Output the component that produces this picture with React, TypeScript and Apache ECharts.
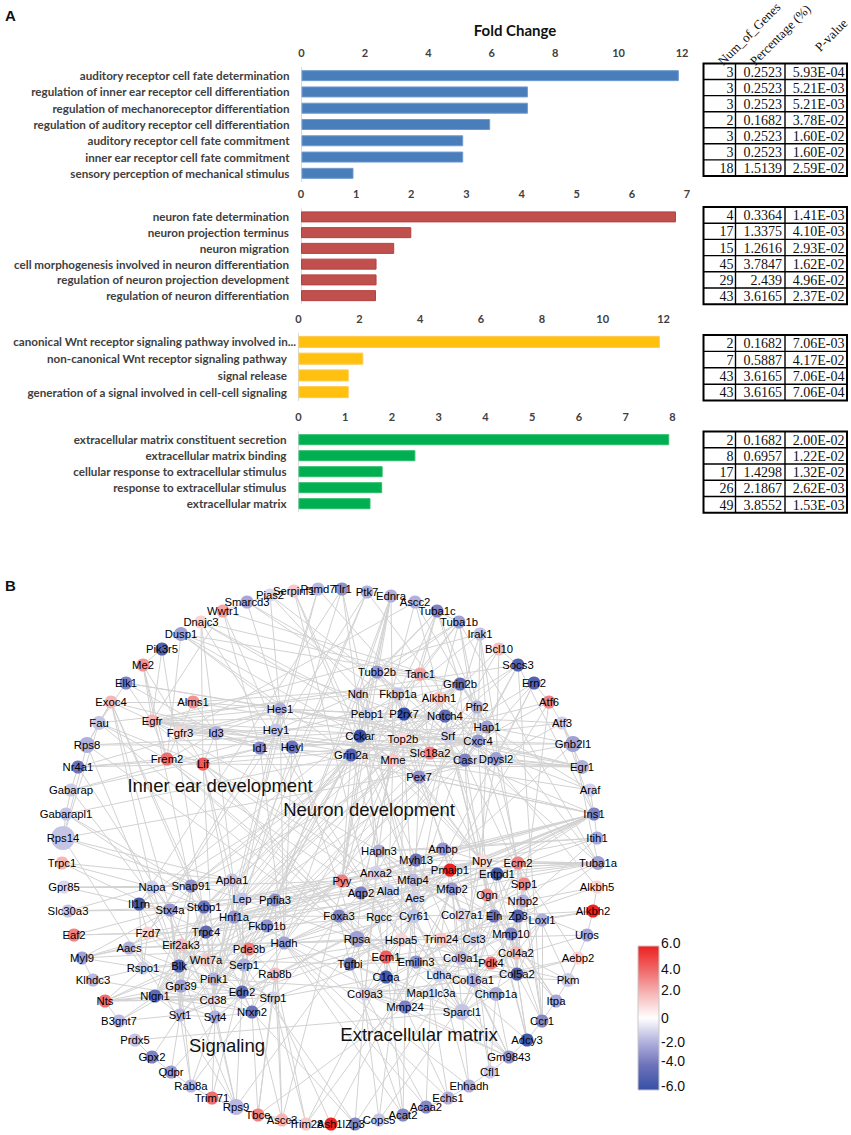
import React, { useEffect, useRef } from "react";
import * as echarts from "echarts";

// ---------- Panel A data ----------
const cat1 = ["auditory receptor cell fate determination","regulation of inner ear receptor cell differentiation","regulation of mechanoreceptor differentiation","regulation of auditory receptor cell differentiation","auditory receptor cell fate commitment","inner ear receptor cell fate commitment","sensory perception of mechanical stimulus"];
const val1 = [11.9, 7.14, 7.14, 5.95, 5.1, 5.1, 1.64];
const genes1 = ["3","3","3","2","3","3","18"];
const pct1 = ["0.2523","0.2523","0.2523","0.1682","0.2523","0.2523","1.5139"];
const pv1 = ["5.93E-04","5.21E-03","5.21E-03","3.78E-02","1.60E-02","1.60E-02","2.59E-02"];

const cat2 = ["neuron fate determination","neuron projection terminus","neuron migration","cell morphogenesis involved in neuron differentiation","regulation of neuron projection development","regulation of neuron differentiation"];
const val2 = [6.8, 2.0, 1.69, 1.37, 1.37, 1.36];
const genes2 = ["4","17","15","45","29","43"];
const pct2 = ["0.3364","1.3375","1.2616","3.7847","2.439","3.6165"];
const pv2 = ["1.41E-03","4.10E-03","2.93E-02","1.62E-02","4.96E-02","2.37E-02"];

const cat3 = ["canonical Wnt receptor signaling pathway involved in...","non-canonical Wnt receptor signaling pathway","signal release","generation of a signal involved in cell-cell signaling"];
const val3 = [11.88, 2.13, 1.65, 1.65];
const genes3 = ["2","7","43","43"];
const pct3 = ["0.1682","0.5887","3.6165","3.6165"];
const pv3 = ["7.06E-03","4.17E-02","7.06E-04","7.06E-04"];

const cat4 = ["extracellular matrix constituent secretion","extracellular matrix binding","cellular response to extracellular stimulus","response to extracellular stimulus","extracellular matrix"];
const val4 = [7.93, 2.5, 1.8, 1.79, 1.54];
const genes4 = ["2","8","17","26","49"];
const pct4 = ["0.1682","0.6957","1.4298","2.1867","3.8552"];
const pv4 = ["2.00E-02","1.22E-02","1.32E-02","2.62E-03","1.53E-03"];

const tableHeaders = ["Num_of_Genes", "Percentage (%)", "P-value"];

// ---------- Panel B data: label, x, y, fold value, symbol size ----------
type Row = [string, number, number, number, number];
const outerNodes: Row[] = [
["Pias2",270,595,-1,13],["Serpinf1",294,591,1.5,13],["Psmd7",318,589,-1.8,13],["Tlr1",342,589,-3,13],["Ptk7",367,592,-2,13],["Ednra",391,596,-2,13],["Ascc2",415,602,-2,13],["Tuba1c",437,611,-3.5,13],["Tuba1b",459,622,-2.5,13],["Irak1",480,634,-1.5,13],["Bcl10",499,649,1.8,13],["Socs3",518,665,-5,13],["Ern2",534,683,-5,13],["Atf6",549,702,3.5,13],["Atf3",562,723,-1.2,13],["Gnb2l1",573,744,-2.5,16],["Egr1",582,767,-2,14],["Araf",590,790,-1.2,13],["Ins1",594,814,-3.5,13],["Itih1",597,838,-2.2,13],["Tuba1a",598,863,-2.5,14],["Alkbh5",597,887,1.2,13],["Alkbh2",593,911,6,13],["Uros",587,935,-2.3,13],["Aebp2",578,958,1.2,13],["Pkm",568,980,-1.3,14],["Itpa",556,1001,-2.3,13],["Ccr1",542,1021,-3.3,13],["Adcy3",527,1040,-5.5,13],["Gm9843",509,1057,-3,13],["Cfl1",490,1072,-1.3,13],["Ehhadh",469,1086,-2,13],["Echs1",448,1098,-2,13],["Acaa2",426,1107,-3.3,13],["Acat2",403,1115,-3.3,13],["Cops5",379,1120,-1.5,13],["Zp3",355,1124,-3.3,13],["Ash1l",331,1124,6,13],["Trim28",306,1124,1.5,13],["Ascc3",282,1120,2,13],["Tbce",258,1115,3.5,13],["Rps9",236,1107,-1.8,16],["Trim71",212,1098,4,13],["Rab8a",191,1086,-1.8,13],["Qdpr",171,1072,-2.7,13],["Gpx2",152,1057,-3.5,13],["Prdx5",135,1040,-1.5,13],["B3gnt7",119,1021,-1.8,13],["Nts",105,1001,4,13],["Klhdc3",93,980,-1.8,13],["Myl9",82,958,-2.5,13],["Eaf2",74,935,3.5,13],["Slc30a3",68,911,-1.5,13],["Gpr85",64,887,-1,13],["Trpc1",62,863,2,13],["Rps14",63,838,-1.5,24],["Gabarapl1",66,814,-1.5,13],["Gabarap",71,790,-1.3,13],["Nr4a1",78,767,-4,13],["Rps8",87,745,-2,16],["Fau",99,723,-1.5,14],["Exoc4",111,702,2,13],["Elk1",126,683,-3.5,13],["Me2",143,665,3,13],["Pik3r5",162,649,-5,13],["Dusp1",181,634,-2.5,14],["Dnajc3",201,622,1.2,13],["Wwtr1",223,611,2.5,13],["Smarcd3",247,602,-2.3,13],
];
const earNodes: Row[] = [
["Alms1",193,702,3,13],["Hes1",280,709,-2,13],["Egfr",152,721,2,13],["Hey1",276,730,-1.5,13],["Id3",216,733,-2,14],["Fgfr3",180,733,1.2,14],["Heyl",292,747,-4,13],["Id1",260,748,-3.3,13],["Frem2",167,759,4,13],["Lif",203,764,4.5,13],
];
const neuronNodes: Row[] = [
["Tubb2b",377,672,-2.8,13],["Tanc1",420,674,2.5,13],["Grin2b",460,684,-4.5,13],["Ndn",358,694,-1.3,13],["Fkbp1a",398,694,-1.5,13],["Alkbh1",439,698,1.5,13],["Pfn2",477,707,-2,13],["Pebp1",367,714,-1.2,13],["P2rx7",404,714,-6,13],["Notch4",445,716,-4.5,13],["Hap1",487,727,-2.5,13],["Cckar",360,736,-6,13],["Top2b",403,739,1,13],["Srf",448,736,-1.2,14],["Cxcr4",478,741,-2.8,13],["Grin2a",351,755,-4.8,13],["Slc18a2",430,753,3.5,13],["Mme",393,760,1.5,13],["Casr",465,760,-3.5,13],["Dpysl2",496,759,-2.5,14],["Pex7",419,777,-3,13],
];
const matrixNodes: Row[] = [
["Hapln3",379,851,-2,13],["Ambp",443,849,-2.8,13],["Myh13",416,860,-4,13],["Npy",482,861,1,13],["Ecm2",518,863,3.5,13],["Pmaip1",450,870,6,13],["Anxa2",376,873,-1.2,14],["Entpd1",497,874,-5.5,13],["Pyy",342,881,3.5,13],["Mfap4",413,880,-1.8,13],["Spp1",524,884,3.3,13],["Mfap2",452,889,-2.8,13],["Aqp2",361,893,-3.5,13],["Alad",388,891,-1.3,14],["Ogn",487,895,3,13],["Nrbp2",523,901,-2,13],["Aes",415,898,-1.2,13],["Foxa3",339,916,-3.5,13],["Rgcc",379,917,-1,13],["Cyr61",414,916,-1.5,14],["Col27a1",462,915,-1,14],["Eln",494,916,-4,13],["Zp3",518,916,-5,13],["Loxl1",542,920,-2,13],["Cst3",474,939,-1.2,14],["Mmp10",511,934,-3.5,13],["Rpsa",357,939,-2.5,16],["Hspa5",401,940,1.2,14],["Trim24",441,939,1.5,13],["Tgfbi",350,964,-4,13],["Ecm1",386,957,4.5,13],["Emilin3",416,962,-3,13],["Col9a1",461,958,-1.8,14],["Pdk4",491,963,3.8,13],["Col4a2",516,953,2,13],["C1qa",386,977,-5.5,13],["Ldha",439,975,-1.2,14],["Col16a1",473,980,-2,14],["Col5a2",517,974,-5,13],["Col9a3",365,994,-1.2,13],["Map1lc3a",431,993,-1,13],["Chmp1a",496,994,-2,14],["Mmp24",405,1007,-3.5,13],["Sparcl1",462,1012,-1.5,16],
];
const signalingNodes: Row[] = [
["Apba1",232,880,-1.5,13],["Napa",152,887,-1.2,13],["Snap91",191,886,-3,13],["Lep",242,899,-1.5,13],["Ppfia3",275,900,-3,13],["Il1rn",139,904,-5.5,13],["Stxbp1",204,907,-4,13],["Stx4a",170,910,-2.8,13],["Hnf1a",234,917,-2.8,13],["Fkbp1b",267,926,-3,13],["Trpc4",206,932,-4.5,13],["Fzd7",148,933,1.2,13],["Hadh",284,943,-2.5,13],["Eif2ak3",181,945,1.8,13],["Pde3b",249,949,3.5,13],["Aacs",129,948,-2,13],["Rspo1",143,968,-1.2,13],["Blk",179,966,-5,13],["Wnt7a",206,960,1.5,13],["Serp1",244,965,-2,13],["Rab8b",275,974,1.8,13],["Pink1",214,979,-2,13],["Gpr39",181,986,-2.5,13],["Edn2",242,992,-4.5,13],["Nlgn1",155,996,-4.5,13],["Sfrp1",273,998,-1.2,13],["Cd38",213,1000,-1,13],["Nrxn2",252,1012,-4,13],["Syt1",180,1015,-1.8,13],["Syt4",215,1017,-2,13],
];

// "hub: partners"; Zp3* is the Zp3 on the outer ring
const adjacency: string[] = [
"Pias2: Hes1 Top2b Fkbp1a","Serpinf1: Col9a1 Mfap4 Ecm1","Psmd7: Hey1 Srf Pink1","Tlr1: Il1rn Cd38 Hapln3 Cyr61","Ptk7: Wnt7a Hnf1a Fzd7 Cxcr4","Ednra: Edn2 Grin2a Ndn Cckar Pebp1 Mme Pyy","Ascc2: Hap1 Fgfr3 Notch4","Tuba1c: Tubb2b Tuba1b Tanc1 Grin2b Ndn Fkbp1a P2rx7 Pfn2","Tuba1b: Tubb2b Tanc1 Alkbh1 Pfn2 Ndn Grin2a Cxcr4 Tuba1a","Irak1: Il1rn Cxcr4 Srf Hap1 Egfr Ccr1","Bcl10: Srf Lep Socs3 Dpysl2","Socs3: Lep Il1rn Cxcr4 Egfr Casr Ins1 Ccr1","Ern2: Atf6 Hspa5 Srf Dpysl2 Casr","Atf6: Hspa5 Cxcr4 Atf3 Top2b Col4a2","Atf3: Egr1 Srf Hes1 Gnb2l1 Dpysl2 Ins1","Gnb2l1: Rps14 Rpsa Rps8 Hap1 Top2b Tuba1a","Egr1: Srf Lif Id1 Id3 Cxcr4 Mme Egfr Hes1","Araf: Ins1 Egfr Srf Hap1","Ins1: Npy Pyy Myh13 Lep Edn2 Casr Cyr61 Aes Pmaip1 Ecm2 Rab8b Hadh Hnf1a Foxa3 Grin2a Pex7 Egfr","Itih1: Ambp Ins1 Mfap2 Hapln3 Col9a1 Npy","Tuba1a: Tuba1b Aes Mfap4 Col27a1 Tubb2b Anxa2 Pmaip1 Ecm2 Npy Myh13 Alad","Alkbh5: Alkbh2 Nrbp2 Trim24 Alkbh1","Alkbh2: Uros Eln Hspa5 Loxl1","Uros: Ogn Hadh Pdk4 Pkm","Aebp2: Pkm Col5a2 Col16a1 Ecm2","Pkm: Itpa Ldha Pdk4 Col4a2 Spp1","Itpa: Ccr1 Col4a2 Mmp10 Ogn","Ccr1: Adcy3 Spp1 Col5a2 Mmp10","Adcy3: Gm9843 Npy Pyy Col5a2 Eln Mmp10","Gm9843: Sparcl1 Col16a1 Mmp24 Col9a3 Map1lc3a Chmp1a Cfl1 Ldha Col9a1","Cfl1: Ehhadh Col16a1 Cst3 Chmp1a","Ehhadh: Echs1 Sparcl1 Ldha Hadh","Echs1: Acaa2 Map1lc3a Hadh Mmp24","Acaa2: Acat2 Map1lc3a Hadh Col9a3","Acat2: Mmp24 Hadh Tgfbi Ecm1","Cops5: Zp3* Hspa5 Rpsa Pdk4","Zp3*: Eln Serp1 Nrxn2 Col9a3","Ash1l: Sfrp1 Emilin3 Tbce","Trim28: Ascc3 Hspa5 Trim24 Sfrp1 Rab8b","Ascc3: Tbce Ascc2 Rab8b Serp1 Ppfia3","Tbce: Trim71 Tuba1a Rab8b Sfrp1 Nrxn2","Rps9: Rpsa Syt4 Cd38 Rps14 Trim71 Rps8 Edn2","Trim71: Rab8a Syt4 Pde3b","Rab8a: Qdpr Syt1 Syt4 Rab8b Gpr39","Qdpr: Gpx2 Syt1 Hadh","Gpx2: Prdx5 Syt1","Prdx5: Sparcl1 Gpx2","B3gnt7: Nts Nlgn1 Gpr39 Syt1","Nts: Rspo1 Nlgn1 Gpr39 Blk Cd38 Wnt7a Edn2 Sfrp1","Klhdc3: Myl9 Cd38 Rspo1","Myl9: Stx4a Rspo1 Myh13 Aacs Pde3b Mfap4","Eaf2: Fzd7 Stx4a Trpc4","Slc30a3: Stx4a Stxbp1 Napa","Gpr85: Il1rn Napa Snap91","Trpc1: Trpc4 Napa Apba1","Rps14: Rps8 Rpsa Fau Apba1 Gabarapl1","Gabarapl1: Gabarap Snap91 Grin2a Stxbp1","Gabarap: Nr4a1 Pink1 Grin2b Id1","Nr4a1: Hes1 Lif Frem2 Cxcr4 Stx4a","Rps8: Rpsa Fau Exoc4 Hap1","Fau: Exoc4 Rpsa Ndn Frem2 Lif","Exoc4: Egfr Alms1 Stx4a Stxbp1 Snap91 Napa Heyl","Elk1: Hes1 Egfr Fau Srf Id3","Me2: Frem2 Egfr Lif Wnt7a","Pik3r5: Me2 Egfr Pink1","Dusp1: Frem2 Hes1 Grin2a Cckar Tanc1 P2rx7","Dnajc3: Lif Hspa5 Top2b Serp1 Tanc1 Casr","Wwtr1: Smarcd3 Hey1 Grin2b Egfr Id1","Smarcd3: Notch4 Srf Serpinf1 Hes1",
"Hes1: Hey1 Heyl Id1 Id3 Notch4 Egfr Srf Fgfr3 Alms1 Lep Pink1 Hadh","Hey1: Heyl Notch4 Id1 Fgfr3","Heyl: Notch4 Fgfr3 Srf Hadh Rpsa","Id1: Id3 Lif Egfr Fzd7 Hadh Sparcl1","Id3: Lif Frem2 Fgfr3 Egfr Alms1","Egfr: Fgfr3 Lif Frem2 Casr Cxcr4 Notch4 Hapln3","Alms1: Frem2 Grin2b Top2b","Frem2: Col9a1 Ecm1 Sparcl1 Lif","Lif: Ecm1 Hnf1a Pink1 Cxcr4 Anxa2 Apba1 Cyr61 Foxa3",
"Tubb2b: Ndn Fkbp1a Grin2b P2rx7 Tanc1","Tanc1: Grin2a Grin2b Slc18a2 Notch4","Grin2b: Grin2a Pfn2 Alkbh1 Nlgn1 P2rx7 Hap1 Mme Top2b Casr Snap91 Stxbp1","Ndn: Pebp1 Cckar Grin2a Hey1 Fkbp1a Mfap4 Ppfia3","Fkbp1a: Pebp1 Top2b Slc18a2 Pex7 Anxa2 P2rx7","Alkbh1: Notch4 Pex7 Hap1","Pfn2: Srf Hap1 Casr Cxcr4 Tuba1a Aes Anxa2","Pebp1: Cckar Top2b Grin2a Pyy Npy Anxa2","P2rx7: Cckar Slc18a2 Grin2a Casr Mme Pmaip1 Aqp2","Notch4: Hap1 Srf Cxcr4 Slc18a2 Hnf1a Ogn","Hap1: Cxcr4 Dpysl2 Npy Pink1 Casr Slc18a2","Cckar: Grin2a Mme Slc18a2 Npy Pyy Pex7 Pde3b Lep Ppfia3","Top2b: Mme Slc18a2 Srf Cyr61 Hspa5 Pdk4","Srf: Cxcr4 Casr Dpysl2 Cyr61 Ecm1 Col4a2 Eln","Cxcr4: Casr Dpysl2 Trpc4 Ogn Spp1 Mme","Grin2a: Mme Stxbp1 Hapln3 Nlgn1 Snap91 Eif2ak3 Pyy Hadh Cd38 Pink1","Slc18a2: Mme Casr Pex7 Npy Syt1 Snap91","Mme: Npy Pex7 Aqp2 Pyy Ecm1 Ppfia3 Hadh","Casr: Dpysl2 Pex7 Cst3 Ogn Spp1 Pyy","Dpysl2: Pex7 Col9a1 Ecm2","Pex7: Myh13 Npy Hadh Fkbp1b",
"Hapln3: Col27a1 Mfap4 Mfap2 Anxa2 Col9a1 Col9a3 Sparcl1","Ambp: Col27a1 Mmp10 Hapln3 Myh13 Npy","Myh13: Mfap4 Pyy Aes Anxa2 Mmp24 Cyr61","Npy: Pyy Pmaip1 Entpd1 Ogn Fzd7 Col9a1 Blk Stxbp1","Ecm2: Col4a2 Spp1 Entpd1 Col5a2 Col16a1 Cst3","Pmaip1: Mfap4 Trim24 Cyr61 Rpsa Tgfbi Hnf1a","Anxa2: Aqp2 Alad Cyr61 Col9a3 Stx4a","Entpd1: Eln Ogn Zp3 Trpc4 Mmp10","Pyy: Aqp2 Hnf1a Snap91 Lep Wnt7a Blk Pde3b Serp1","Mfap4: Mfap2 Eln Col27a1 Alad Sparcl1 Cyr61","Spp1: Ogn Col4a2 Col5a2 Mmp10 Trim24","Mfap2: Eln Col27a1 Mmp24 Sparcl1 Cst3 Col9a1 Emilin3","Aqp2: Alad Rpsa Mfap2 Ppfia3 Foxa3","Alad: Rgcc Foxa3 Ldha","Ogn: Eln Col4a2 Nrbp2 Cst3 Col16a1","Nrbp2: Zp3 Mmp10 Chmp1a","Aes: Foxa3 Cyr61 Hadh Col9a1 Hnf1a","Foxa3: Hnf1a Rgcc Rpsa Ecm1 Tgfbi Hadh Sfrp1","Rgcc: Cyr61 Tgfbi C1qa Fkbp1b","Cyr61: Col27a1 Ecm1 Tgfbi Sparcl1 Emilin3 Mmp24 Wnt7a","Col27a1: Eln Col9a1 Cst3 Col5a2 Col16a1 Col4a2","Eln: Zp3 Loxl1 Mmp10 Col5a2 Emilin3 Col9a3 Sparcl1","Zp3: Mmp10 Loxl1 Col4a2","Loxl1: Col4a2 Col5a2 Col16a1 Ccr1","Cst3: Col9a1 Trim24 Hspa5 Map1lc3a Mmp24 Ldha","Mmp10: Col4a2 Col16a1 Col9a1 Sparcl1 Tgfbi","Rpsa: Hspa5 Tgfbi Ldha C1qa Rps14 Hadh","Hspa5: Trim24 Ecm1 Pdk4 Syt1 Eif2ak3 Serp1 Rab8b","Trim24: Pdk4 Chmp1a Col9a1","Tgfbi: Ecm1 C1qa Col9a3 Emilin3 Sparcl1 Wnt7a Hnf1a","Ecm1: C1qa Emilin3 Col9a1 Col9a3 Mmp24 Sfrp1","Emilin3: C1qa Col9a1 Col16a1 Col5a2","Col9a1: Col16a1 Col9a3 Col5a2 Col4a2","Pdk4: Ldha Col4a2","C1qa: Col9a3 Mmp24 Map1lc3a Sfrp1","Ldha: Col16a1 Pdk4 Map1lc3a Chmp1a","Col16a1: Col5a2 Sparcl1 Col9a3 Chmp1a","Col5a2: Col4a2 Sparcl1 Col9a3","Col9a3: Map1lc3a Mmp24 Sparcl1","Map1lc3a: Chmp1a Pink1 Mmp24","Chmp1a: Sparcl1","Mmp24: Sparcl1 Hadh",
"Apba1: Napa Snap91 Stxbp1 Lep Hnf1a Nlgn1 Cd38","Napa: Snap91 Stx4a Stxbp1 Blk","Snap91: Stxbp1 Stx4a Syt1 Gpr39 Nlgn1","Lep: Ppfia3 Hnf1a Serp1 Pink1 Edn2","Ppfia3: Fkbp1b Stxbp1 Syt1 Nlgn1 Cd38","Il1rn: Stx4a Fzd7 Lep Cd38 Rspo1","Stxbp1: Stx4a Syt1 Syt4 Blk Trpc4 Gpr39 Nlgn1 Nrxn2","Stx4a: Syt1 Syt4 Aacs Blk Gpr39","Hnf1a: Fkbp1b Pde3b Trpc4 Cd38 Eif2ak3 Serp1","Fkbp1b: Hadh Trpc4 Pde3b Wnt7a","Trpc4: Eif2ak3 Fzd7 Blk Pink1","Fzd7: Wnt7a Rspo1 Sfrp1 Blk Aacs","Hadh: Pde3b Aacs Nrxn2 Serp1","Eif2ak3: Serp1 Pink1 Aacs Blk Cd38","Pde3b: Serp1 Rab8b Pink1 Cd38 Edn2","Aacs: Rspo1 Pink1 Gpr39","Rspo1: Wnt7a Blk Sfrp1 Gpr39","Blk: Gpr39 Wnt7a Pink1 Nlgn1 Syt1","Wnt7a: Sfrp1 Serp1 Pink1 Gpr39 Edn2","Serp1: Rab8b Edn2 Pink1","Rab8b: Edn2 Sfrp1 Syt4","Pink1: Gpr39 Cd38 Edn2 Syt4 Nrxn2","Gpr39: Nlgn1 Cd38 Syt1 Edn2","Edn2: Sfrp1 Nrxn2 Cd38","Nlgn1: Nrxn2 Syt1 Cd38 Syt4","Cd38: Syt1 Syt4 Nrxn2","Nrxn2: Syt4 Sfrp1","Syt1: Syt4",
];

// label, x centre, y centre
const clusterLabels: [string, number, number][] = [
  ["Inner ear development", 220, 785],
  ["Neuron development", 369, 809],
  ["Signaling", 227, 1045],
  ["Extracellular matrix", 419, 1034],
];

const scaleLabels = ["6.0", "4.0", "2.0", "0", "-2.0", "-4.0", "-6.0"];
const scaleLabelY = [943, 969, 990, 1018, 1042, 1061, 1086];

// ---------- helpers ----------
const colorStops: [number, number[]][] = [
  [-6, [54, 80, 165]], [-4, [108, 114, 186]], [-2, [176, 176, 220]], [0, [255, 255, 255]],
  [2, [246, 182, 182]], [4, [240, 110, 110]], [6, [238, 32, 32]],
];
function colorOf(v: number): string {
  for (let i = 0; i < colorStops.length - 1; i++) {
    const [a, ca] = colorStops[i];
    const [b, cb] = colorStops[i + 1];
    if (v >= a && v <= b) {
      const t = (v - a) / (b - a);
      return `rgb(${ca.map((c, k) => Math.round(c + (cb[k] - c) * t)).join(",")})`;
    }
  }
  return "#888";
}

const LABEL_FONT = "Lato";
const LABEL_COLOR = "#404040";
const CAT_SIZE = 11.65;

const allRows: Row[] = [...outerNodes, ...earNodes, ...neuronNodes, ...matrixNodes, ...signalingNodes];
const nodeIndex: Record<string, number> = {};
// inner Zp3 keeps the plain key; the outer one gets Zp3*
allRows.forEach((r, i) => {
  if (r[0] === "Zp3" && i < outerNodes.length) nodeIndex["Zp3*"] = i;
  else nodeIndex[r[0]] = i;
});
function buildLinks() {
  const seen = new Set<string>();
  const links: { source: string; target: string }[] = [];
  adjacency.forEach((line) => {
    const [hub, rest] = line.split(":");
    rest.trim().split(/\s+/).forEach((p) => {
      const a = nodeIndex[hub];
      const b = nodeIndex[p];
      if (a === undefined || b === undefined || a === b) return;
      const key = a < b ? `${a}-${b}` : `${b}-${a}`;
      if (seen.has(key)) return;
      seen.add(key);
      links.push({ source: `n${a}`, target: `n${b}` });
    });
  });
  return links;
}

const panels = [
  { cats: cat1, vals: val1, color: "#4a7ebb", border: "#6f9bd1", left: 301.5, width: 380.5, top: 67.5, height: 114, max: 12, interval: 2, barW: 11 },
  { cats: cat2, vals: val2, color: "#c0504d", border: "#b5413f", left: 301, width: 386, top: 209, height: 94.5, max: 7, interval: 1, barW: 11 },
  { cats: cat3, vals: val3, color: "#ffc00f", border: "#ffc84a", left: 298.5, width: 365, top: 333.5, height: 67, max: 12, interval: 2, barW: 12 },
  { cats: cat4, vals: val4, color: "#00b050", border: "#2dbb6c", left: 298.5, width: 374, top: 431.7, height: 80, max: 8, interval: 1, barW: 11 },
];

const tables = [
  { top: 63.5, rowH: 16.06, genes: genes1, pct: pct1, pv: pv1 },
  { top: 207, rowH: 16.2, genes: genes2, pct: pct2, pv: pv2 },
  { top: 335, rowH: 16.4, genes: genes3, pct: pct3, pv: pv3 },
  { top: 431.5, rowH: 16.25, genes: genes4, pct: pct4, pv: pv4 },
];

function buildGraphic() {
  const els: any[] = [];
  const serif = "Liberation Serif";
  const colX = [703.5, 735.5, 785, 847];
  const rightX = [733.5, 782, 844.5];
  tables.forEach((t) => {
    const n = t.genes.length;
    const bottom = t.top + n * t.rowH;
    els.push({ type: "rect", shape: { x: colX[0], y: t.top, width: colX[3] - colX[0], height: n * t.rowH }, style: { fill: "none", stroke: "#000", lineWidth: 2 } });
    for (let r = 1; r < n; r++) {
      els.push({ type: "line", shape: { x1: colX[0], y1: t.top + r * t.rowH, x2: colX[3], y2: t.top + r * t.rowH }, style: { stroke: "#000", lineWidth: 1.4 } });
    }
    [colX[1], colX[2]].forEach((x) => els.push({ type: "line", shape: { x1: x, y1: t.top, x2: x, y2: bottom }, style: { stroke: "#000", lineWidth: 1.4 } }));
    for (let r = 0; r < n; r++) {
      [t.genes[r], t.pct[r], t.pv[r]].forEach((s, c) => {
        els.push({ type: "text", x: rightX[c], y: t.top + (r + 0.5) * t.rowH + 0.5, style: { text: s, fill: "#111", font: `14px "${serif}"`, align: "right", verticalAlign: "middle" } });
      });
    }
  });
  const headerPos = [[720, 63], [752, 63], [817, 49]];
  tableHeaders.forEach((h, i) => {
    els.push({ type: "text", x: headerPos[i][0], y: headerPos[i][1], rotation: Math.PI / 4, style: { text: h, fill: "#111", font: `13px "${serif}"`, align: "left", verticalAlign: "middle" } });
  });
  els.push({ type: "text", x: 515, y: 30, style: { text: "Fold Change", fill: "#111", font: `bold 15px "${LABEL_FONT}"`, align: "center", verticalAlign: "middle" } });
  els.push({ type: "text", x: 5, y: 15, style: { text: "A", fill: "#111", font: 'bold 15px "Liberation Sans"', align: "left", verticalAlign: "middle" } });
  els.push({ type: "text", x: 5, y: 585, style: { text: "B", fill: "#111", font: 'bold 15px "Liberation Sans"', align: "left", verticalAlign: "middle" } });
  clusterLabels.forEach(([s, x, y]) => {
    els.push({ type: "text", x, y, z: 20, style: { text: s, fill: "#111", font: '18.5px "Liberation Sans"', align: "center", verticalAlign: "middle" } });
  });
  els.push({
    type: "rect",
    shape: { x: 638, y: 946, width: 21, height: 144 },
    style: {
      stroke: "#c8c8c8", lineWidth: 1,
      fill: new echarts.graphic.LinearGradient(0, 0, 0, 1, [
        { offset: 0, color: "#ee2020" }, { offset: 0.17, color: "#f06a6a" }, { offset: 0.33, color: "#f6b6b6" },
        { offset: 0.5, color: "#ffffff" }, { offset: 0.67, color: "#b0b0dc" }, { offset: 0.83, color: "#6c72ba" }, { offset: 1, color: "#3650a5" },
      ]),
    },
  });
  scaleLabels.forEach((s, i) => {
    els.push({ type: "text", x: 661, y: scaleLabelY[i], style: { text: s, fill: "#111", font: '14px "Liberation Sans"', align: "left", verticalAlign: "middle" } });
  });
  return els;
}

export default function App() {
  const ref = useRef<HTMLDivElement>(null);
  useEffect(() => {
    document.body.style.margin = "0";
    const chart = echarts.init(ref.current!, null, { renderer: "svg" });
    const grids: any[] = panels.map((p) => ({ left: p.left, top: p.top, width: p.width, height: p.height, containLabel: false }));
    grids.push({ left: 0, top: 0, width: 851, height: 1135 });
    const xAxes: any[] = panels.map((p, i) => ({
      type: "value", gridIndex: i, position: "top", min: 0, max: p.max, interval: p.interval,
      axisLine: { show: false }, axisTick: { show: false }, splitLine: { show: false },
      axisLabel: { color: LABEL_COLOR, fontFamily: LABEL_FONT, fontWeight: "bold", fontSize: 11, margin: 10 },
    }));
    xAxes.push({ type: "value", gridIndex: 4, min: 0, max: 851, show: false });
    const catStyle = { color: LABEL_COLOR, fontFamily: LABEL_FONT, fontWeight: "bold", fontSize: CAT_SIZE };
    const yAxes: any[] = panels.map((p, i) => ({
      type: "category", gridIndex: i, inverse: true, data: p.cats,
      axisLine: { show: true, lineStyle: { color: "#d9d9d9" } }, axisTick: { show: false },
      axisLabel: i === 2
        ? {
            ...catStyle, margin: 2.5, interval: 0,
            // the truncated first label runs past the others, as in the source figure
            formatter: (v: string, idx: number) => (idx === 0 ? `{e|${v}}` : `{n|${v}}`),
            rich: { e: { ...catStyle }, n: { ...catStyle, padding: [0, 9, 0, 0] } },
          }
        : { ...catStyle, margin: 12, interval: 0 },
    }));
    yAxes.push({ type: "value", gridIndex: 4, min: 0, max: 1135, inverse: true, show: false });
    const series: any[] = panels.map((p, i) => ({
      type: "bar", xAxisIndex: i, yAxisIndex: i, data: p.vals, barWidth: p.barW, silent: true,
      itemStyle: { color: p.color, borderColor: p.border, borderWidth: 1 },
    }));
    series.push({
      type: "graph", coordinateSystem: "cartesian2d", xAxisIndex: 4, yAxisIndex: 4, layout: "none", silent: true,
      data: allRows.map((r, i) => ({
        id: `n${i}`, name: r[0], value: [r[1], r[2]], symbolSize: r[4],
        itemStyle: { color: colorOf(r[3]) },
      })),
      links: buildLinks(),
      symbol: "circle",
      label: { show: true, position: "inside", formatter: "{b}", color: "#000", fontFamily: "Liberation Sans", fontSize: 11.3 },
      lineStyle: { color: "#d2d2d2", width: 1, opacity: 1, curveness: 0 },
      edgeSymbol: ["none", "none"],
      z: 3,
    });
    chart.setOption({
      animation: false,
      backgroundColor: "#fff",
      grid: grids, xAxis: xAxes, yAxis: yAxes, series,
      graphic: { elements: buildGraphic() },
    });
    return () => chart.dispose();
  }, []);
  return <div ref={ref} style={{ width: 851, height: 1135 }} />;
}
